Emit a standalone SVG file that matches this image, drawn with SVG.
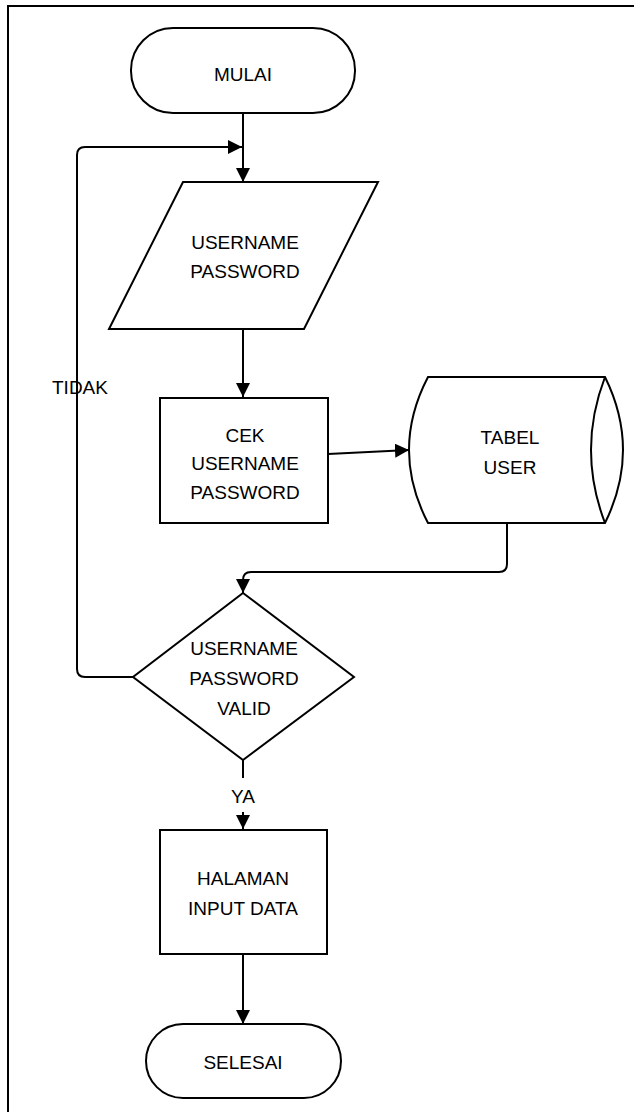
<svg xmlns="http://www.w3.org/2000/svg" width="634" height="1112" viewBox="0 0 634 1112">
<style>
.s{fill:#fff;stroke:#000;stroke-width:2}
.c{fill:none;stroke:#000;stroke-width:2}
text{font-family:"Liberation Sans",Arial,sans-serif;font-size:19px;fill:#000;text-anchor:middle;dominant-baseline:central}
</style>
<defs>
<marker id="ah" markerUnits="userSpaceOnUse" markerWidth="14" markerHeight="14" viewBox="0 0 14 14" refX="14" refY="7" orient="auto">
<path d="M0,0 L14,7 L0,14 Z" fill="#000"/>
</marker>
</defs>
<rect x="8" y="6" width="640" height="1120" fill="#fff" stroke="#000" stroke-width="2"/>
<g id="connectors">
<path class="c" d="M243,113 V182" marker-end="url(#ah)"/>
<path class="c" d="M133,677 H85 Q77,677 77,669 V155 Q77,147 85,147 H242" marker-end="url(#ah)"/>
<path class="c" d="M243,329 V397" marker-end="url(#ah)"/>
<path class="c" d="M328,454 L409,450" marker-end="url(#ah)"/>
<path class="c" d="M507,523 V564 Q507,572 499,572 H251 Q243,572 243,580 V593" marker-end="url(#ah)"/>
<path class="c" d="M243,760 V778"/>
<path class="c" d="M243,812 V829" marker-end="url(#ah)"/>
<path class="c" d="M243,954 V1024" marker-end="url(#ah)"/>
</g>
<g id="mulai">
<rect class="s" x="131" y="28" width="224" height="85" rx="42" ry="42"/>
<text x="243" y="74">MULAI</text>
</g>
<g id="input">
<path class="s" d="M183,182 H378 L304,329 H109 Z"/>
<text x="245" y="242">USERNAME</text>
<text x="245" y="271">PASSWORD</text>
</g>
<g id="cek">
<rect class="s" x="160" y="398" width="168" height="125"/>
<text x="245" y="435">CEK</text>
<text x="245" y="463">USERNAME</text>
<text x="245" y="492">PASSWORD</text>
</g>
<g id="tabel">
<path class="s" d="M428,377 H605 Q641,450 605,523 H428 Q390,450 428,377 Z"/>
<path class="c" d="M605,377 Q577,450 605,523"/>
<text x="510" y="437">TABEL</text>
<text x="510" y="467">USER</text>
</g>
<g id="valid">
<path class="s" d="M243,593 L354,677 L243,760 L133,677 Z"/>
<text x="244" y="648">USERNAME</text>
<text x="244" y="678">PASSWORD</text>
<text x="244" y="708">VALID</text>
</g>
<g id="halaman">
<rect class="s" x="160" y="830" width="167" height="124"/>
<text x="243" y="878">HALAMAN</text>
<text x="243" y="908">INPUT DATA</text>
</g>
<g id="selesai">
<rect class="s" x="146" y="1024" width="195" height="74" rx="37" ry="37"/>
<text x="243" y="1062">SELESAI</text>
</g>
<g id="labels">
<text x="80" y="387">TIDAK</text>
<text x="243" y="796">YA</text>
</g>
</svg>
